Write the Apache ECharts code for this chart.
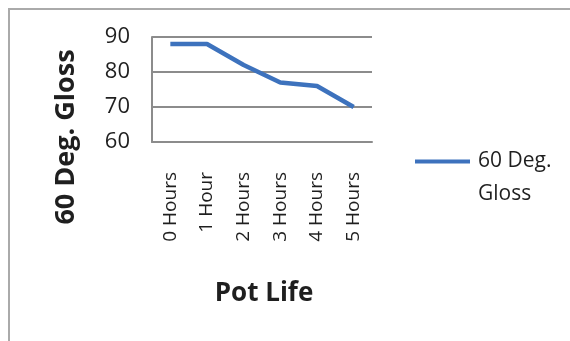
<!DOCTYPE html>
<html>
<head>
<meta charset="utf-8">
<style>
  html, body { margin: 0; padding: 0; background: #ffffff; }
  #chart { width: 570px; height: 341px; }
</style>
<script src="https://cdn.jsdelivr.net/npm/echarts@6/dist/echarts.min.js"></script>
</head>
<body>
<div id="chart"></div>
<script>
// Pot life study: 60-degree gloss reading after each hour
const categories = ['0 Hours', '1 Hour', '2 Hours', '3 Hours', '4 Hours', '5 Hours'];
const glossValues = [88, 88, 82, 77, 76, 70];
const seriesName = '60 Deg. Gloss';
const yTicks = { min: 60, max: 90, step: 10 };
const xTitle = 'Pot Life';
const yTitle = '60 Deg. Gloss';

const FONT = '"Open Sans", "Liberation Sans", sans-serif';
const TEXT = '#1f1f1f';
const GRID = '#8c8c8c';
const BLUE = '#3d72bd';

// Legend key: a short bar level with the first text line; the tiny corner
// dots only fix the path's bounding box to the full two-line item height.
const LEGEND_ICON = 'path://M0,0h0.01v0.01h-0.01z M0,14.5h55v4h-55z M54.99,65.99h0.01v0.01h-0.01z';

const chart = echarts.init(document.getElementById('chart'), null, { renderer: 'canvas' });

chart.setOption({
  animation: false,
  backgroundColor: '#ffffff',
  grid: { left: 152, right: 198, top: 37, bottom: 199, containLabel: false },
  xAxis: {
    type: 'category',
    data: categories,
    boundaryGap: true,
    axisLine: { show: true, lineStyle: { color: GRID, width: 2 } },
    axisTick: { show: false },
    axisLabel: { rotate: 90, margin: 30, fontFamily: FONT, fontSize: 19, color: TEXT }
  },
  yAxis: {
    type: 'value',
    min: yTicks.min,
    max: yTicks.max,
    interval: yTicks.step,
    axisLine: { show: true, lineStyle: { color: GRID, width: 2 } },
    axisTick: { show: false },
    splitLine: { show: true, lineStyle: { color: GRID, width: 2 } },
    axisLabel: { margin: 22, fontFamily: FONT, fontSize: 22, color: TEXT }
  },
  legend: {
    data: [{ name: seriesName, icon: LEGEND_ICON }],
    left: 410,
    top: 140,
    itemWidth: 55,
    itemHeight: 66,
    itemGap: 0,
    formatter: () => '60 Deg.\nGloss',
    itemStyle: { color: BLUE, borderWidth: 0 },
    textStyle: {
      fontFamily: FONT, fontSize: 21, color: TEXT,
      lineHeight: 33, padding: [0, 0, 0, 3]
    }
  },
  series: [{
    name: seriesName,
    type: 'line',
    data: glossValues,
    symbol: 'none',
    smooth: false,
    lineStyle: { color: BLUE, width: 4.5 },
    itemStyle: { color: BLUE }
  }],
  graphic: [
    {
      // frame around the chart area
      type: 'rect',
      shape: { x: 9, y: 9, width: 600, height: 400 },
      style: { fill: 'none', stroke: '#aaaaaa', lineWidth: 2 },
      silent: true
    },
    {
      type: 'text',
      x: 66, y: 137,
      rotation: Math.PI / 2,
      style: {
        text: yTitle, fontFamily: FONT, fontSize: 27, fontWeight: 'bold',
        fill: TEXT, align: 'center', verticalAlign: 'middle'
      }
    },
    {
      type: 'text',
      x: 264, y: 294,
      style: {
        text: xTitle, fontFamily: FONT, fontSize: 26, fontWeight: 'bold',
        fill: TEXT, align: 'center', verticalAlign: 'middle'
      }
    }
  ]
});
</script>
</body>
</html>
